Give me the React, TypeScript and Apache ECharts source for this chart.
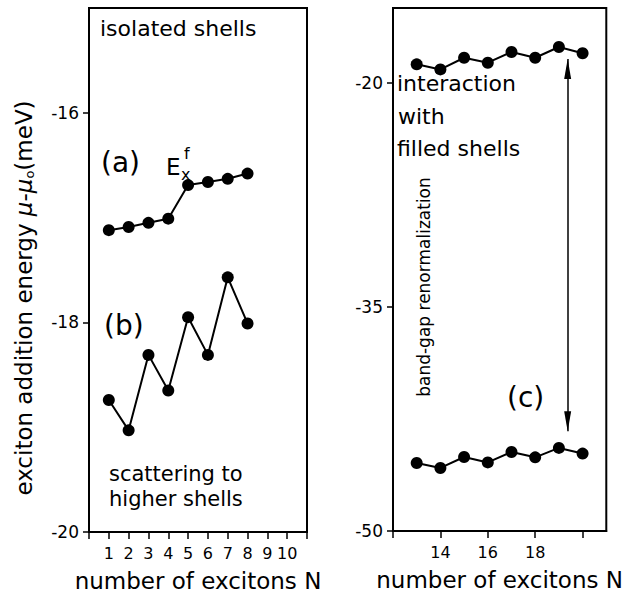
import React, { useEffect, useRef } from 'react';
import * as echarts from 'echarts';

// ---- data ----
const nLeft = [1, 2, 3, 4, 5, 6, 7, 8];
const seriesA = [-17.12, -17.09, -17.05, -17.01, -16.69, -16.66, -16.63, -16.58];
const seriesB = [-18.74, -19.03, -18.31, -18.65, -17.95, -18.31, -17.57, -18.01];
const nRight = [13, 14, 15, 16, 17, 18, 19, 20];
const seriesUpper = [-18.77, -19.11, -18.33, -18.66, -17.94, -18.33, -17.61, -18.03];
const seriesLower = [-45.45, -45.78, -45.05, -45.41, -44.71, -45.07, -44.44, -44.82];

const leftXTicks = [0, 1, 2, 3, 4, 5, 6, 7, 8, 9, 10, 11];
const leftXLabels = [1, 2, 3, 4, 5, 6, 7, 8, 9, 10];
const leftYLabels = [-20, -18, -16];
const rightXTicks = [12, 14, 16, 18, 20];
const rightXLabels = [14, 16, 18];
const rightYLabels = [-50, -35, -20];

const arrowN = 19.37;
const arrowTop = -18.41;
const arrowBottom = -43.33;

const FONT = 'DejaVu Sans';
const BLACK = '#000';

const pair = (xs: number[], ys: number[]) => xs.map((x, i) => [x, ys[i]]);

export default function App() {
  const ref = useRef<HTMLDivElement>(null);
  useEffect(() => {
    if (!ref.current) return;
    const chart = echarts.init(ref.current, null, { renderer: 'svg' });

    const xAxisBase = (gridIndex: number, min: number, max: number, interval: number, ticks: number[], labels: number[]) => ({
      gridIndex,
      type: 'value',
      min,
      max,
      interval,
      axisLine: { show: true, onZero: false, lineStyle: { color: BLACK, width: 2 } },
      axisTick: { show: true, length: 7, customValues: ticks, lineStyle: { color: BLACK, width: 1.5 } },
      axisLabel: { show: true, customValues: labels, margin: 13, fontSize: 16, color: BLACK, fontFamily: FONT },
      splitLine: { show: false },
      name: 'number of excitons N',
      nameLocation: 'middle',
      nameGap: 37,
      nameTextStyle: { fontSize: 23, color: BLACK, fontFamily: FONT },
    });
    const yAxisBase = (gridIndex: number, min: number, max: number, labels: number[]) => ({
      gridIndex,
      type: 'value',
      min,
      max,
      axisLine: { show: true, onZero: false, lineStyle: { color: BLACK, width: 2 } },
      axisTick: { show: true, length: 6, customValues: labels, lineStyle: { color: BLACK, width: 1.5 } },
      axisLabel: { show: true, customValues: labels, margin: 10, fontSize: 17, color: BLACK, fontFamily: FONT },
      splitLine: { show: false },
    });

    const lineSeries = (name: string, idx: number, data: number[][], extra: any = {}) => ({
      name,
      type: 'line',
      xAxisIndex: idx,
      yAxisIndex: idx,
      data,
      symbol: 'circle',
      symbolSize: 12,
      itemStyle: { color: BLACK },
      lineStyle: { color: BLACK, width: 2 },
      silent: true,
      ...extra,
    });

    const txt = (text: string, x: number, y: number, fontSize: number, extra: any = {}) => ({
      type: 'text',
      x,
      y,
      silent: true,
      ...extra,
      style: { text, fontSize, fontFamily: FONT, fill: BLACK, align: 'left', verticalAlign: 'middle', ...(extra.style || {}) },
    });

    chart.setOption({
      animation: false,
      backgroundColor: '#fff',
      grid: [
        { left: 89, top: 8, width: 218, height: 524, show: true, borderColor: BLACK, borderWidth: 2, backgroundColor: 'transparent' },
        { left: 393, top: 8, width: 219, height: 523, show: true, borderColor: BLACK, borderWidth: 2, backgroundColor: 'transparent' },
      ],
      xAxis: [
        xAxisBase(0, 0, 11, 1, leftXTicks, leftXLabels),
        xAxisBase(1, 12, 21, 1, rightXTicks, rightXLabels),
      ],
      yAxis: [
        yAxisBase(0, -20, -15, leftYLabels),
        yAxisBase(1, -50, -15, rightYLabels),
      ],
      series: [
        lineSeries('(a)', 0, pair(nLeft, seriesA)),
        lineSeries('(b)', 0, pair(nLeft, seriesB)),
        lineSeries('upper', 1, pair(nRight, seriesUpper), {
          markLine: {
            silent: true,
            symbol: ['none', 'none'],
            label: { show: false },
            lineStyle: { color: BLACK, width: 1.5, type: 'solid' },
            data: [[{ coord: [arrowN, arrowTop] }, { coord: [arrowN, arrowBottom] }]],
          },
          markPoint: {
            silent: true,
            label: { show: false },
            itemStyle: { color: BLACK },
            data: [
              { coord: [arrowN, arrowTop], symbol: 'triangle', symbolSize: [7, 20], symbolOffset: [0, 10] },
              { coord: [arrowN, arrowBottom], symbol: 'triangle', symbolSize: [7, 20], symbolRotate: 180, symbolOffset: [0, -10] },
            ],
          },
        }),
        lineSeries('(c)', 1, pair(nRight, seriesLower)),
      ],
      graphic: [
        txt('isolated shells', 100, 28, 22),
        txt('(a)', 101, 162, 28),
        txt('E', 166, 167, 23),
        txt('x', 181, 174, 16),
        txt('f', 184, 153, 16),
        txt('(b)', 104, 325, 28),
        txt('scattering to', 109, 474, 21),
        txt('higher shells', 109, 499, 21),
        txt('interaction', 397, 83, 22),
        txt('with', 398, 116, 22),
        txt('filled shells', 397, 148, 22),
        txt('(c)', 507, 397, 28),
        txt('band-gap renormalization', 424, 287, 17, { rotation: Math.PI / 2, style: { align: 'center' } }),
        {
          type: 'text',
          x: 24,
          y: 298,
          rotation: Math.PI / 2,
          silent: true,
          style: {
            text: 'exciton addition energy {i|μ}-{i|μ}{s|o}(meV)',
            fontSize: 23,
            fontFamily: FONT,
            fill: BLACK,
            align: 'center',
            verticalAlign: 'middle',
            rich: {
              i: { fontSize: 23, fontStyle: 'italic', fontFamily: FONT, fill: BLACK },
              s: { fontSize: 13, fontFamily: FONT, fill: BLACK, verticalAlign: 'bottom', padding: [10, 0, 0, 0] },
            },
          },
        },
      ],
    });
    return () => chart.dispose();
  }, []);
  return <div ref={ref} style={{ position: 'fixed', left: 0, top: 0, width: 626, height: 597 }} />;
}
